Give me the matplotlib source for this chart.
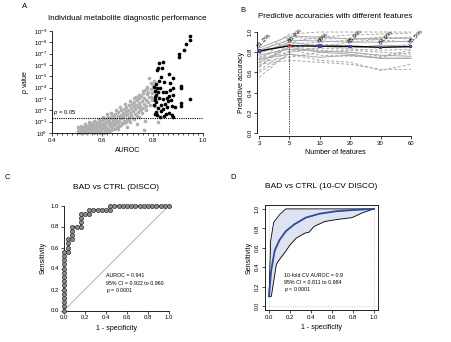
import matplotlib
matplotlib.use('Agg')
import matplotlib.pyplot as plt
import numpy as np

plt.rcParams['font.family'] = ['Liberation Sans', 'DejaVu Sans']
plt.rcParams['mathtext.fontset'] = 'custom'
plt.rcParams['mathtext.rm'] = 'Liberation Sans'
plt.rcParams['mathtext.it'] = 'Liberation Sans:italic'

# ---------------- Panel A data: AUROC vs -log10(p) ----------------
gray_auc = [0.502, 0.504, 0.507, 0.509, 0.512, 0.514, 0.517, 0.519, 0.521, 0.523, 0.526, 0.528,
            0.531, 0.533, 0.535, 0.538, 0.541, 0.543, 0.545, 0.548, 0.551, 0.552, 0.555, 0.557,
            0.559, 0.562, 0.564, 0.566, 0.569, 0.571, 0.573, 0.575, 0.578, 0.580, 0.582, 0.584,
            0.587, 0.589, 0.591, 0.593, 0.596, 0.598, 0.601, 0.603, 0.605, 0.607, 0.610, 0.612,
            0.614, 0.616, 0.619, 0.621, 0.623, 0.625, 0.628, 0.630, 0.632, 0.634, 0.637, 0.639,
            0.641, 0.643, 0.646, 0.648, 0.650, 0.652, 0.655, 0.657, 0.659, 0.661, 0.664, 0.666,
            0.668, 0.670, 0.673, 0.675, 0.677, 0.679, 0.682, 0.684, 0.686, 0.688, 0.691, 0.693,
            0.695, 0.697, 0.700, 0.702, 0.704, 0.706, 0.709, 0.711, 0.713, 0.715, 0.718, 0.720,
            0.722, 0.724, 0.727, 0.729, 0.731, 0.733, 0.736, 0.738, 0.740, 0.742, 0.745, 0.747,
            0.749, 0.751, 0.754, 0.756, 0.758, 0.760, 0.763, 0.765, 0.767, 0.769, 0.772, 0.774,
            0.776, 0.778, 0.781, 0.783, 0.785, 0.787, 0.790, 0.792, 0.794, 0.796, 0.799, 0.801,
            0.803, 0.806, 0.808, 0.505, 0.515, 0.525, 0.535, 0.545, 0.555, 0.565, 0.575, 0.585,
            0.595, 0.605, 0.615, 0.625, 0.635, 0.645, 0.655, 0.665, 0.675, 0.685, 0.695, 0.765,
            0.820, 0.705, 0.725, 0.745, 0.735, 0.755, 0.775, 0.795, 0.810, 0.532, 0.548, 0.568,
            0.586, 0.602, 0.618, 0.636, 0.653, 0.671, 0.689, 0.708, 0.726, 0.744, 0.762, 0.779,
            0.797, 0.590, 0.627, 0.662, 0.699, 0.737, 0.771]
gray_nlp = [0.08, 0.22, 0.35, 0.12, 0.03, 0.28, 0.45, 0.15, 0.06, 0.38, 0.21, 0.55,
            0.11, 0.30, 0.62, 0.18, 0.04, 0.42, 0.26, 0.71, 0.14, 0.50, 0.33, 0.09,
            0.63, 0.24, 0.81, 0.40, 0.16, 0.55, 0.72, 0.29, 0.05, 0.47, 0.92, 0.35,
            0.66, 0.19, 1.02, 0.52, 0.78, 0.31, 0.60, 1.12, 0.42, 0.88, 0.23, 0.70,
            1.25, 0.50, 0.95, 1.40, 0.36, 0.76, 1.08, 0.58, 1.32, 0.90, 0.45, 1.55,
            1.15, 0.68, 1.01, 1.42, 0.80, 1.70, 1.22, 0.55, 0.98, 1.50, 1.85, 1.10,
            0.72, 1.35, 1.62, 2.00, 0.92, 1.28, 1.78, 1.48, 2.15, 1.05, 1.60, 1.90,
            2.30, 1.25, 1.72, 2.05, 1.45, 2.45, 0.95, 1.85, 2.20, 1.55, 2.60, 1.98,
            1.35, 2.35, 2.75, 1.70, 2.10, 2.50, 1.52, 2.90, 2.25, 1.88, 2.65, 3.05,
            2.00, 2.40, 3.30, 1.75, 2.80, 3.55, 2.20, 3.10, 2.55, 3.80, 2.95, 2.35,
            3.40, 4.10, 2.70, 3.65, 4.85, 3.15, 2.50, 4.40, 3.90, 2.90, 3.50, 4.20,
            3.00, 4.60, 3.70, 0.50, 0.60, 0.02, 0.48, 0.12, 0.85, 0.02, 0.95, 0.10,
            0.15, 0.02, 0.12, 0.20, 0.30, 0.35, 0.40, 0.60, 0.70, 0.85, 1.00, 0.30,
            0.97, 1.15, 1.20, 1.40, 3.20, 2.10, 2.05, 3.20, 2.40, 0.75, 0.95, 1.05,
            1.20, 1.38, 1.65, 1.80, 2.05, 2.25, 2.55, 2.80, 3.05, 3.35, 3.70, 3.95,
            4.30, 0.02, 0.15, 0.35, 0.55, 0.80, 1.05]
black_auc = [0.948, 0.948, 0.932, 0.926, 0.906, 0.906, 0.842, 0.826, 0.822, 0.836, 0.816, 0.866,
             0.834, 0.879, 0.845, 0.911, 0.911, 0.813, 0.818, 0.809, 0.822, 0.840, 0.853, 0.869,
             0.882, 0.882, 0.866, 0.813, 0.826, 0.842, 0.948, 0.849, 0.832, 0.876, 0.911, 0.911,
             0.889, 0.813, 0.809, 0.818, 0.866, 0.876, 0.853, 0.882, 0.822, 0.809, 0.805, 0.830,
             0.860, 0.840, 0.870, 0.815, 0.825, 0.855, 0.835, 0.845, 0.810, 0.828, 0.858, 0.872,
             0.806]
black_nlp = [8.59, 8.20, 7.83, 7.30, 6.95, 6.70, 6.24, 6.15, 5.77, 5.77, 5.56, 5.18,
             4.97, 4.83, 4.53, 4.15, 3.95, 4.30, 3.95, 3.70, 3.65, 3.65, 3.65, 3.77,
             3.95, 3.35, 3.30, 3.35, 3.12, 3.00, 3.00, 2.53, 2.47, 2.41, 2.62, 2.41,
             2.32, 1.83, 1.65, 1.59, 1.74, 1.59, 1.65, 1.44, 2.18, 2.90, 2.50, 4.00,
             2.80, 2.10, 4.40, 2.70, 4.60, 3.10, 1.90, 1.50, 3.20, 1.40, 2.25, 2.95,
             4.05]
a_yticks_exp = [0, 1, 2, 3, 4, 5, 6, 7, 8, 9]
a_xticks = [0.4, 0.6, 0.8, 1.0]
p_cut = 0.05

# ---------------- Panel B data ----------------
b_features = ['3', '5', '10', '20', '30', '60']
b_main = [0.812, 0.864, 0.860, 0.859, 0.849, 0.855]
b_labels = ['81.2%', '86.4%', '86%', '85.9%', '84.9%', '85.5%']
b_dashed = [
    [0.55, 0.80, 0.85, 0.90, 0.93, 0.95],
    [0.60, 0.78, 0.72, 0.70, 0.62, 0.68],
    [0.65, 0.90, 0.95, 0.97, 0.98, 0.99],
    [0.70, 0.75, 0.80, 0.82, 0.80, 0.78],
    [0.72, 0.95, 0.93, 0.94, 0.92, 0.90],
    [0.75, 0.85, 0.88, 0.86, 0.84, 0.88],
    [0.68, 0.72, 0.70, 0.68, 0.63, 0.63],
    [0.78, 0.98, 1.00, 1.00, 1.00, 1.00],
    [0.62, 0.82, 0.77, 0.76, 0.75, 0.80],
    [0.80, 0.88, 0.90, 0.92, 0.95, 0.93],
    [0.74, 0.80, 0.84, 0.83, 0.82, 0.83],
    [0.66, 0.86, 0.82, 0.80, 0.76, 0.82],
]
b_solid = [
    [0.82, 0.92, 0.91, 0.90, 0.90, 0.91],
    [0.77, 0.83, 0.81, 0.80, 0.77, 0.76],
    [0.70, 0.85, 0.80, 0.78, 0.74, 0.74],
    [0.79, 0.90, 0.86, 0.84, 0.87, 0.86],
    [0.73, 0.78, 0.75, 0.77, 0.74, 0.74],
    [0.84, 0.96, 0.95, 0.93, 0.94, 0.94],
]
b_best = 1

# ---------------- Panel C data ----------------
c_fpr = [0.00, 0.00, 0.00, 0.00, 0.00, 0.00, 0.00, 0.00, 0.00, 0.00, 0.00, 0.00, 0.00, 0.00, 0.00,
         0.04, 0.04, 0.04, 0.04, 0.08, 0.08, 0.08, 0.08, 0.12, 0.16, 0.16, 0.16, 0.16,
         0.20, 0.24, 0.24, 0.28, 0.32, 0.36, 0.40, 0.44, 0.44,
         0.48, 0.52, 0.56, 0.60, 0.64, 0.68, 0.72, 0.76, 0.80, 0.84, 0.88, 0.92, 0.96, 1.00]
c_tpr = [0.00, 0.04, 0.08, 0.12, 0.16, 0.20, 0.24, 0.28, 0.32, 0.36, 0.40, 0.44, 0.48, 0.52, 0.56,
         0.56, 0.60, 0.64, 0.68, 0.68, 0.72, 0.76, 0.80, 0.80, 0.80, 0.84, 0.88, 0.92,
         0.92, 0.92, 0.96, 0.96, 0.96, 0.96, 0.96, 0.96, 1.00,
         1.00, 1.00, 1.00, 1.00, 1.00, 1.00, 1.00, 1.00, 1.00, 1.00, 1.00, 1.00, 1.00, 1.00]
c_text = ['AUROC = 0.941', '95% CI = 0.922 to 0.960', '$p$ = 0.0001']

# ---------------- Panel D data ----------------
d_mean_fpr = [0.00, 0.02, 0.054, 0.10, 0.16, 0.24, 0.35, 0.48, 0.64, 0.83, 1.00]
d_mean_tpr = [0.10, 0.36, 0.57, 0.68, 0.77, 0.84, 0.91, 0.95, 0.976, 0.99, 1.00]
d_up_fpr = [0.00, 0.016, 0.044, 0.10, 0.16, 1.00]
d_up_tpr = [0.10, 0.67, 0.86, 0.94, 1.00, 1.00]
d_lo_fpr = [0.00, 0.022, 0.07, 0.10, 0.15, 0.20, 0.26, 0.34, 0.38, 0.43, 0.53, 0.64, 0.79, 0.89, 1.00]
d_lo_tpr = [0.10, 0.10, 0.43, 0.48, 0.55, 0.63, 0.70, 0.75, 0.76, 0.82, 0.87, 0.89, 0.91, 0.96, 1.00]
d_text = ['10-fold CV AUROC = 0.9', '95% CI = 0.811 to 0.984', '$p$ < 0.0001']

roc_ticks = [0.0, 0.2, 0.4, 0.6, 0.8, 1.0]

W, H = 452, 342
fig = plt.figure(figsize=(W / 100, H / 100), dpi=100)


def axes_px(x0, x1, ytop, ybot):
    return fig.add_axes([x0 / W, 1 - ybot / H, (x1 - x0) / W, (ybot - ytop) / H])


TICK = 4.3
LAB = 5.0
TITLE = 6.0


def style_ticks(ax):
    ax.tick_params(axis='both', labelsize=TICK, length=2, width=0.5, pad=1.5, direction='out')
    for s in ax.spines.values():
        s.set_linewidth(0.6)


# ---------------- Panel A ----------------
axA = axes_px(52, 203, 31, 133)
axA.set_yscale('log')
axA.scatter(gray_auc, [10 ** (-v) for v in gray_nlp], s=7, color='#b0b0b0', linewidths=0, clip_on=False, zorder=2)
axA.scatter(black_auc, [10 ** (-v) for v in black_nlp], s=7, color='black', linewidths=0, clip_on=False, zorder=3)
axA.set_xlim(0.4, 1.0)
axA.set_ylim(1, 1e-9)
axA.axhline(p_cut, color='black', linestyle=(0, (1, 1)), linewidth=0.8, zorder=4)
axA.text(0.405, p_cut * 0.75, '$p$ = 0.05', fontsize=4.3, ha='left', va='bottom')
axA.set_yticks([10.0 ** (-e) for e in a_yticks_exp])
axA.set_yticklabels(['10$^{%d}$' % (-e) if e else '10$^{0}$' for e in a_yticks_exp])
axA.yaxis.set_minor_locator(matplotlib.ticker.NullLocator())
axA.set_xticks(a_xticks)
axA.set_xticklabels(['0.4', '0.6', '0.8', '1.0'])
axA.xaxis.set_minor_locator(matplotlib.ticker.MultipleLocator(0.02))
axA.tick_params(axis='x', which='minor', length=1.2, width=0.5)
axA.spines['top'].set_visible(False)
axA.spines['right'].set_visible(False)
style_ticks(axA)
axA.set_xlabel('AUROC', fontsize=LAB, labelpad=3)
axA.set_ylabel('$p$ value', fontsize=LAB, labelpad=2)
axA.set_title('Individual metabolite diagnostic performance', fontsize=5.8, pad=8)

# ---------------- Panel B ----------------
axB = axes_px(257.5, 412.5, 29, 136)
xs = np.arange(len(b_features))
for line in b_dashed:
    axB.plot(xs, line, color='#a8a8a8', linestyle=(0, (3, 2)), linewidth=0.7, zorder=1)
for line in b_solid:
    axB.plot(xs, line, color='#a8a8a8', linestyle='-', linewidth=0.7, zorder=1)
axB.plot([b_best, b_best], [0, b_main[b_best]], color='black', linestyle=(0, (1, 1)), linewidth=0.6, zorder=2)
axB.plot(xs, b_main, color='black', linewidth=1.0, zorder=3)
colors = ['#3a4fa0'] * len(xs)
colors[b_best] = '#e03030'
axB.scatter(xs, b_main, s=6, marker='s', color=colors, zorder=4, linewidths=0)
for x, y, t in zip(xs, b_main, b_labels):
    axB.text(x + 0.02, y + 0.02, t, fontsize=4.5, rotation=45, ha='left', va='bottom',
             rotation_mode='anchor', zorder=5)
axB.set_xlim(-0.05, 5.05)
axB.set_ylim(-0.03, 1.03)
axB.set_xticks(xs)
axB.set_xticklabels(b_features)
axB.set_yticks(roc_ticks)
axB.set_yticklabels(['%.1f' % v for v in roc_ticks], rotation=90, va='center')
axB.spines['top'].set_visible(False)
axB.spines['right'].set_visible(False)
axB.spines['left'].set_bounds(0, 1)
axB.spines['bottom'].set_bounds(0, 5)
style_ticks(axB)
axB.set_xlabel('Number of features', fontsize=LAB, labelpad=2)
axB.set_ylabel('Predictive accuracy', fontsize=LAB, labelpad=2)
axB.set_title('Predictive accuracies with different features', fontsize=5.8, pad=8)

# ---------------- Panel C ----------------
axC = axes_px(64, 169, 205.5, 310.5)
axC.plot([0, 1], [0, 1], color='#d98080', linewidth=0.5, zorder=1)
axC.plot(c_fpr, c_tpr, color='#4a4a4a', linewidth=1.5, marker='o', markersize=3.0,
         markerfacecolor='#8a8a8a', markeredgecolor='#333333', markeredgewidth=0.5,
         clip_on=False, zorder=3)
axC.set_xlim(0, 1)
axC.set_ylim(0, 1)
axC.set_xticks(roc_ticks)
axC.set_yticks(roc_ticks)
axC.set_xticklabels(['%.1f' % v for v in roc_ticks])
axC.set_yticklabels(['%.1f' % v for v in roc_ticks])
axC.spines['top'].set_visible(False)
axC.spines['right'].set_visible(False)
style_ticks(axC)
for i, t in enumerate(c_text):
    axC.text(0.40, 0.33 - i * 0.07, t, fontsize=3.8, ha='left', va='center')
axC.set_xlabel('1 - specificity', fontsize=LAB, labelpad=3)
axC.set_ylabel('Sensitivity', fontsize=LAB, labelpad=3)
axC.set_title('BAD vs CTRL (DISCO)', fontsize=TITLE, pad=12)

# ---------------- Panel D ----------------
axD = axes_px(264.8, 378.2, 205, 310)
up = np.interp(np.linspace(0, 1, 201), d_up_fpr, d_up_tpr)
lo = np.interp(np.linspace(0, 1, 201), d_lo_fpr, d_lo_tpr)
axD.fill_between(np.linspace(0, 1, 201), lo, up, color='#dde3f1', linewidth=0, zorder=1)
for v in (0, 1):
    axD.axhline(v, color='#bbbbbb', linestyle=(0, (1, 1.5)), linewidth=0.5, zorder=0)
    axD.axvline(v, color='#bbbbbb', linestyle=(0, (1, 1.5)), linewidth=0.5, zorder=0)
axD.plot(d_up_fpr, d_up_tpr, color='black', linewidth=0.6, zorder=2)
axD.plot(d_lo_fpr, d_lo_tpr, color='black', linewidth=0.6, zorder=2)
axD.plot(d_mean_fpr, d_mean_tpr, color='#2c4a9e', linewidth=1.3, zorder=3)
axD.set_xlim(-0.04, 1.04)
axD.set_ylim(-0.04, 1.04)
axD.set_xticks(roc_ticks)
axD.set_yticks(roc_ticks)
axD.set_xticklabels(['%.1f' % v for v in roc_ticks])
axD.set_yticklabels(['%.1f' % v for v in roc_ticks], rotation=90, va='center')
style_ticks(axD)
for i, t in enumerate(d_text):
    axD.text(0.14, 0.315 - i * 0.072, t, fontsize=3.8, ha='left', va='center')
axD.set_xlabel('1 - specificity', fontsize=LAB, labelpad=3)
axD.set_ylabel('Sensitivity', fontsize=LAB, labelpad=2)
axD.set_title('BAD vs CTRL (10-CV DISCO)', fontsize=TITLE, pad=12)

# panel letters
for lab, (px, py) in {'A': (25, 7), 'B': (243, 10), 'C': (7, 177), 'D': (233, 177)}.items():
    fig.text(px / W, 1 - py / H, lab, fontsize=5.5, ha='center', va='center')

fig.savefig('out.png', dpi=100)
